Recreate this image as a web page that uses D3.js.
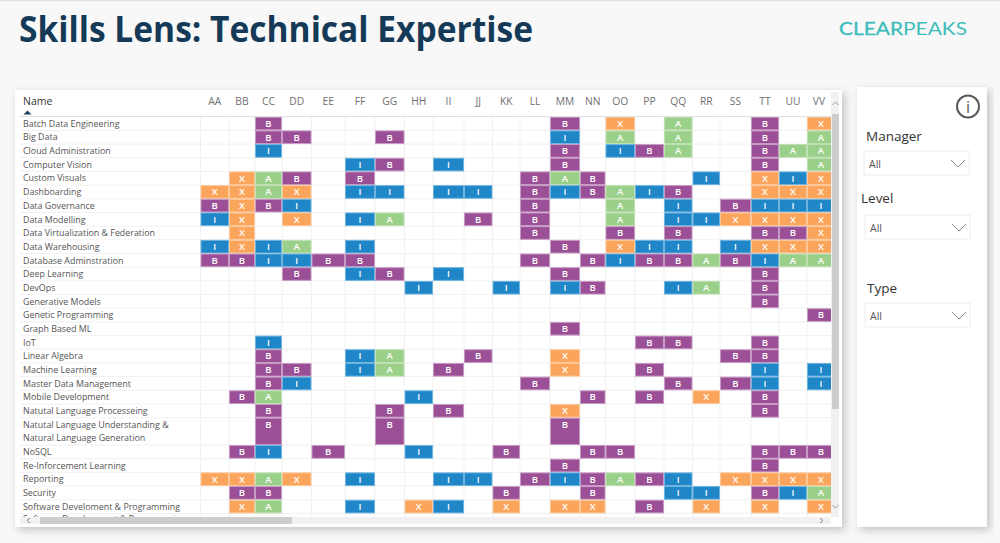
<!DOCTYPE html>
<html>
<head>
<meta charset="utf-8">
<script src="https://cdn.jsdelivr.net/npm/d3@7"></script>
<style>
  html, body { margin: 0; padding: 0; background: #f8f8f8; overflow: hidden; }
  svg { display: block; font-family: "Open Sans", sans-serif; }
</style>
</head>
<body>
<div id="myViz"></div>
<script>
// Data
const columns = ['AA','BB','CC','DD','EE','FF','GG','HH','II','JJ','KK','LL','MM','NN','OO','PP','QQ','RR','SS','TT','UU','VV'];

const skills = [
  'Batch Data Engineering', 'Big Data', 'Cloud Administration', 'Computer Vision', 'Custom Visuals',
  'Dashboarding', 'Data Governance', 'Data Modelling', 'Data Virtualization & Federation', 'Data Warehousing',
  'Database Adminstration', 'Deep Learning', 'DevOps', 'Generative Models', 'Genetic Programming',
  'Graph Based ML', 'IoT', 'Linear Algebra', 'Machine Learning', 'Master Data Management',
  'Mobile Development', 'Natutal Language Processeing',
  'Natutal Language Understanding &\nNatural Language Generation',
  'NoSQL', 'Re-Inforcement Learning', 'Reporting', 'Security', 'Software Develoment & Programming'
];

// one string per skill, one character per column, '.' = no entry
const levels = [
  '..B.........B.X.A..B.X',
  '..BB..B.....I.A.A..B.A',
  '..I.........B.IBA..BAA',
  '.....IB.I...B......B.A',
  '.XAB.B.....BAB...I.XIX',
  'XXAX.II.II.BIBAIB..XXX',
  'BXBI.......B..A.I.BIII',
  'IX.X.IA..B.B..A.IIXXXX',
  '.X.........B..B.B..BBX',
  'IXIA.I......B.XII.IXXX',
  'BBIIBB.....B.BIBBABIAA',
  '...B.IB.I...B......B..',
  '.......I..I.IB..IA.B..',
  '...................B..',
  '.....................B',
  '............B.........',
  '..I............BB..B..',
  '..B..IA..B..X.....BB..',
  '..BB.IA.B...X..B...I.I',
  '..BI.......B....B.BI.I',
  '.BA....I.....B.B.X.B..',
  '..B...B.B...X......B..',
  '..B...B.....B.........',
  '.BI.B..I..B..BB....BBB',
  '............B......B..',
  'XXAX.I..II.BIBABI.XXXX',
  '.BB.......B..B..II.BIA',
  '.XA..I.XI.X.XX.B.X.X.X'
];

const levelNames = ['B', 'I', 'A', 'X'];
const slicers = ['Manager', 'Level', 'Type'];

// Layout
const colEdges = [200.5,229,255,282,311.5,345,375,404.5,433,464,492.5,520,550,580,605.5,635,664,692.5,720,751,779,807,835];
const tableTop = 116.7, lineH = 13.68;
const levelFill = d3.scaleOrdinal().domain(levelNames).range(['#9b4f96', '#1f87c8', '#9bd08a', '#fba55c']);
const levelEdge = d3.scaleOrdinal().domain(levelNames).range(['#c79cc4', '#6fb4e0', '#bfe0b2', '#fcc89a']);

const x = d3.scaleOrdinal().domain(columns).range(colEdges.slice(0, -1));
const colW = d3.scaleOrdinal().domain(columns).range(colEdges.slice(1).map((e, i) => e - colEdges[i]));

// rows are measured in text lines, the wrapped row takes two
let used = 0;
const rows = skills.map((name, i) => {
  const lines = name.split('\n');
  const row = { name, lines, start: used, span: lines.length, values: levels[i] };
  used += lines.length;
  return row;
});
const y = d3.scaleLinear().domain([0, 1]).range([tableTop, tableTop + lineH]);

const svg = d3.select('#myViz').append('svg').attr('width', 1000).attr('height', 543);
const defs = svg.append('defs');
const shadow = defs.append('filter').attr('id', 'shadow').attr('x', '-5%').attr('y', '-5%').attr('width', '110%').attr('height', '110%');
shadow.append('feDropShadow').attr('dx', 3).attr('dy', 3).attr('stdDeviation', 4).attr('flood-color', '#000').attr('flood-opacity', 0.22);
defs.append('clipPath').attr('id', 'bodyClip').append('rect').attr('x', 15).attr('y', 116).attr('width', 816).attr('height', 401);

svg.append('rect').attr('width', 1000).attr('height', 1.5).attr('fill', '#e2e2e2');

// Title and logo
svg.append('text').attr('x', 19).attr('y', 42).attr('fill', '#153a57')
  .attr('font-weight', 700).attr('font-size', 36)
  .attr('textLength', 514).attr('lengthAdjust', 'spacingAndGlyphs')
  .text('Skills Lens: Technical Expertise');
const logo = svg.append('text').attr('x', 839).attr('y', 35).attr('fill', '#3fbdbb')
  .attr('font-family', 'Lato').attr('font-size', 17.5)
  .attr('textLength', 128).attr('lengthAdjust', 'spacingAndGlyphs');
logo.append('tspan').attr('stroke', '#3fbdbb').attr('stroke-width', 0.35).text('CLEAR');
logo.append('tspan').text('PEAKS');

// Cards
svg.append('rect').attr('x', 15).attr('y', 90).attr('width', 827).attr('height', 437).attr('fill', '#fff').attr('filter', 'url(#shadow)');
svg.append('rect').attr('x', 857).attr('y', 87).attr('width', 130).attr('height', 440).attr('fill', '#fff').attr('filter', 'url(#shadow)');

// Matrix body
const body = svg.append('g').attr('clip-path', 'url(#bodyClip)');
const gridColor = '#f1f1f1';

body.selectAll('.hline').data(d3.range(0, used + 1).filter(l => !rows.some(r => l > r.start && l < r.start + r.span)))
  .enter().append('line')
  .attr('x1', 20).attr('x2', 831).attr('y1', d => y(d)).attr('y2', d => y(d))
  .attr('stroke', gridColor);
body.selectAll('.vline').data(colEdges).enter().append('line')
  .attr('x1', d => d).attr('x2', d => d).attr('y1', 92).attr('y2', 517)
  .attr('stroke', gridColor);

const cells = [];
rows.forEach(r => {
  columns.forEach((c, i) => {
    if (r.values[i] !== '.') cells.push({ row: r, col: c, level: r.values[i] });
  });
});

const cell = body.selectAll('.cell').data(cells).enter().append('g').attr('class', 'cell');
cell.append('rect')
  .attr('x', d => x(d.col) + 0.5)
  .attr('y', d => y(d.row.start) + 0.5)
  .attr('width', d => colW(d.col) - 1)
  .attr('height', d => y(d.row.start + d.row.span) - y(d.row.start) - 1)
  .attr('fill', d => levelFill(d.level))
  .attr('stroke', d => levelEdge(d.level));
cell.append('text')
  .attr('x', d => x(d.col) + colW(d.col) / 2)
  .attr('y', d => y(d.row.start + 0.5) + 3.3)
  .attr('text-anchor', 'middle')
  .attr('font-size', 9.5).attr('font-weight', 600)
  .attr('fill', '#fff')
  .text(d => d.level);

// Row labels
const label = body.selectAll('.label').data(rows).enter().append('text')
  .attr('fill', '#555').attr('font-size', 8.9);
label.selectAll('tspan').data(d => d.lines.map((t, i) => ({ t, line: d.start + i }))).enter().append('tspan')
  .attr('x', 23)
  .attr('y', d => y(d.line + 0.5) + 3.2)
  .text(d => d.t);

// Clipped row below the last full one, only the tops of its letters show
body.append('text').attr('x', 23).attr('y', y(used + 0.5) + 1.5).attr('fill', '#555').attr('font-size', 8.9)
  .text('Software Development & Programming');

// Header
svg.append('text').attr('x', 23).attr('y', 105).attr('fill', '#333').attr('font-size', 10.5).text('Name');
svg.append('path').attr('d', 'M23.5 114.5 L27.5 110.5 L31.5 114.5 Z').attr('fill', '#1c3b57');
svg.append('line').attr('x1', 20).attr('x2', 831).attr('y1', 116.5).attr('y2', 116.5).attr('stroke', '#e0e0e0').attr('stroke-width', 1.2);
svg.selectAll('.colHead').data(columns).enter().append('text')
  .attr('x', d => x(d) + colW(d) / 2 + (d === 'VV' ? -2 : 0))
  .attr('y', 105)
  .attr('text-anchor', 'middle')
  .attr('fill', '#707070').attr('font-size', 10.3)
  .text(d => d);

// Scrollbars
svg.append('rect').attr('x', 831).attr('y', 92).attr('width', 8).attr('height', 425).attr('fill', '#f1f1f1');
svg.append('rect').attr('x', 832).attr('y', 114).attr('width', 7).attr('height', 295).attr('fill', '#cdcdcd');
svg.append('path').attr('d', 'M832.5 105 L835.5 102 L838.5 105').attr('fill', 'none').attr('stroke', '#999');
svg.append('path').attr('d', 'M832.5 505 L835.5 508 L838.5 505').attr('fill', 'none').attr('stroke', '#999');
svg.append('rect').attr('x', 20).attr('y', 517).attr('width', 811).attr('height', 7).attr('fill', '#f1f1f1');
svg.append('rect').attr('x', 40).attr('y', 517).attr('width', 252).attr('height', 7).attr('fill', '#cdcdcd');
svg.append('path').attr('d', 'M30 518 L27 520.5 L30 523').attr('fill', 'none').attr('stroke', '#888');
svg.append('path').attr('d', 'M820 518 L823 520.5 L820 523').attr('fill', 'none').attr('stroke', '#888');

// Info icon
svg.append('circle').attr('cx', 968).attr('cy', 106.5).attr('r', 11).attr('fill', 'none').attr('stroke', '#5a5a5a').attr('stroke-width', 2);
svg.append('text').attr('x', 968).attr('y', 112.5).attr('text-anchor', 'middle').attr('fill', '#5a5a5a').attr('font-size', 16).text('i');

// Slicers
const slicerTitleX = d3.scaleOrdinal().domain(slicers).range([866, 861, 867]);
const slicerTitleY = d3.scaleOrdinal().domain(slicers).range([141, 203, 293]);
const slicerBoxX = d3.scaleOrdinal().domain(slicers).range([864, 865, 865]);
const slicerBoxY = d3.scaleOrdinal().domain(slicers).range([151, 215, 303]);
slicers.forEach(name => {
  const bx = slicerBoxX(name), by = slicerBoxY(name);
  svg.append('text').attr('x', slicerTitleX(name)).attr('y', slicerTitleY(name))
    .attr('fill', '#333').attr('font-size', 13.5).text(name);
  svg.append('rect').attr('x', bx).attr('y', by).attr('width', 105).attr('height', 24)
    .attr('fill', '#fff').attr('stroke', '#eeeeee');
  svg.append('text').attr('x', bx + 5).attr('y', by + 16.5).attr('fill', '#555').attr('font-size', 10.5).text('All');
  svg.append('path').attr('d', `M${bx + 87} ${by + 9} L${bx + 94} ${by + 16} L${bx + 101} ${by + 9}`)
    .attr('fill', 'none').attr('stroke', '#8a8a8a');
});
</script>
</body>
</html>
